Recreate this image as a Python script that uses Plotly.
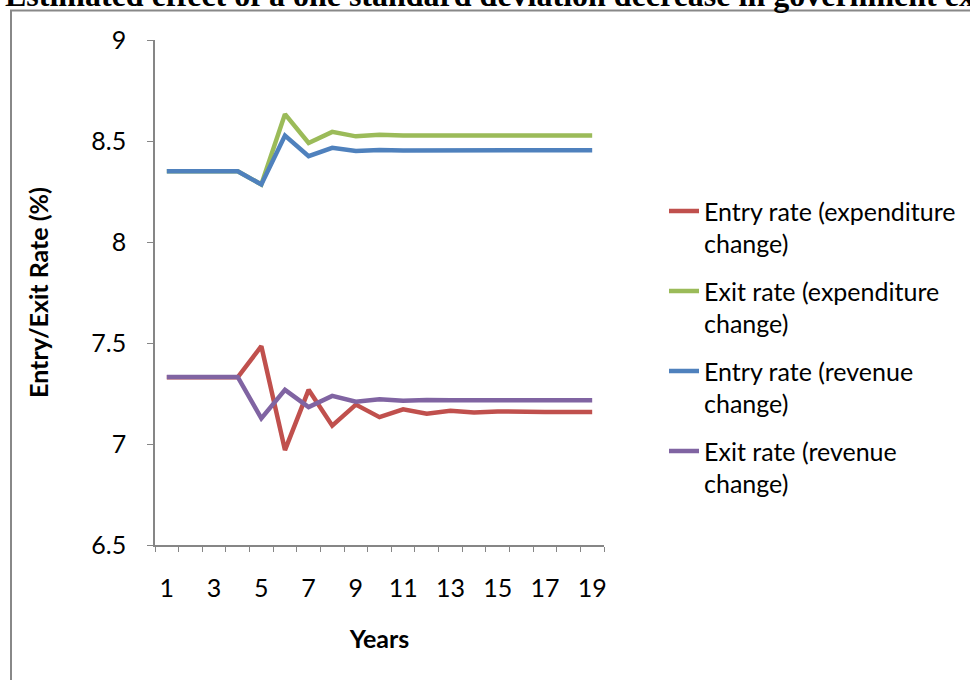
import plotly.graph_objects as go

# Simulated paths of firm entry and exit rates after a fiscal shock
years = list(range(1, 20))

entry_rate_expenditure = [7.33, 7.33, 7.33, 7.33, 7.484, 6.97, 7.268, 7.091, 7.195, 7.133,
                          7.172, 7.15, 7.165, 7.156, 7.161, 7.158, 7.159, 7.158, 7.158]
exit_rate_expenditure = [8.35, 8.35, 8.35, 8.35, 8.285, 8.633, 8.49, 8.545, 8.523, 8.531,
                         8.527, 8.528, 8.528, 8.527, 8.527, 8.527, 8.527, 8.527, 8.527]
entry_rate_revenue = [8.35, 8.35, 8.35, 8.35, 8.285, 8.527, 8.425, 8.466, 8.45, 8.456,
                      8.453, 8.454, 8.454, 8.454, 8.454, 8.454, 8.454, 8.454, 8.454]
exit_rate_revenue = [7.332, 7.332, 7.332, 7.332, 7.127, 7.268, 7.183, 7.238, 7.209, 7.222,
                     7.214, 7.218, 7.216, 7.217, 7.216, 7.217, 7.217, 7.217, 7.217]

series_names = [
    "Entry rate (expenditure<br>change)",
    "Exit rate (expenditure<br>change)",
    "Entry rate (revenue<br>change)",
    "Exit rate (revenue<br>change)",
]
series_values = [entry_rate_expenditure, exit_rate_expenditure,
                 entry_rate_revenue, exit_rate_revenue]
series_colors = ["#C0504D", "#9BBB59", "#4F81BD", "#8064A2"]

x_tick_values = [1, 3, 5, 7, 9, 11, 13, 15, 17, 19]
x_tick_labels = [str(v) for v in x_tick_values]
category_edges = [v + 0.5 for v in range(0, 20)]
y_tick_values = [6.5, 7, 7.5, 8, 8.5, 9]
y_tick_labels = ["6.5", "7", "7.5", "8", "8.5", "9"]

W, H = 970, 680
# plot area in pixels
PL, PR, PT, PB = 155, 604, 39.5, 545


def px_x(px):
    return (px - PL) / (PR - PL)


def px_y(py):
    return (PB - py) / (PB - PT)


FONT = "Lato"
FS = 25
AXIS_GREY = "#868686"

fig = go.Figure()
for i, (name, vals, col) in enumerate(zip(series_names, series_values, series_colors)):
    fig.add_trace(go.Scatter(
        x=years, y=vals, name=name, mode="lines",
        line=dict(color=col, width=4.5),
        legendgroup=f"g{i}",
    ))

fig.update_layout(
    width=W, height=H,
    margin=dict(l=PL, r=W - PR, t=PT, b=H - PB, autoexpand=False),
    paper_bgcolor="white", plot_bgcolor="white",
    font=dict(family=FONT, size=FS, color="black"),
    showlegend=True,
    legend=dict(
        x=px_x(664), y=px_y(188), xanchor="left", yanchor="top",
        font=dict(family=FONT, size=FS, color="black"),
        tracegroupgap=12, valign="top",
        bgcolor="rgba(0,0,0,0)",
    ),
    xaxis=dict(
        range=[0.5, 19.5], tickvals=x_tick_values, ticktext=x_tick_labels,
        ticks="", showline=True, linecolor=AXIS_GREY, linewidth=1.5,
        showgrid=False, zeroline=False, ticklabelstandoff=20,
        minor=dict(tickvals=category_edges, ticks="outside", ticklen=5,
                   tickcolor=AXIS_GREY, tickwidth=1.2),
        title=dict(text="<b>Years</b>", standoff=30,
                   font=dict(family=FONT, size=FS)),
    ),
    yaxis=dict(
        range=[6.5, 9], tickvals=y_tick_values, ticktext=y_tick_labels,
        ticks="outside", ticklen=6, tickcolor=AXIS_GREY, tickwidth=1.2,
        showline=True, linecolor=AXIS_GREY, linewidth=1.5,
        showgrid=False, zeroline=False, ticklabelstandoff=16,
        title=dict(text="<b>Entry/Exit Rate (%)</b>", standoff=36,
                   font=dict(family=FONT, size=FS)),
    ),
)

# outer chart frame
fig.add_shape(type="rect", xref="paper", yref="paper",
              x0=px_x(11), x1=px_x(W + 20), y0=px_y(H + 20), y1=px_y(10),
              line=dict(color="#888888", width=2), fillcolor="rgba(0,0,0,0)",
              layer="below")

# heading running across the top edge
fig.add_annotation(
    text="<b>Estimated effect of a one standard deviation decrease in government expenditure</b>",
    xref="paper", yref="paper", x=px_x(3), y=px_y(-6), xanchor="left", yanchor="middle",
    showarrow=False, font=dict(family="Liberation Serif", size=32, color="black"),
)

fig.write_html("out.html")
